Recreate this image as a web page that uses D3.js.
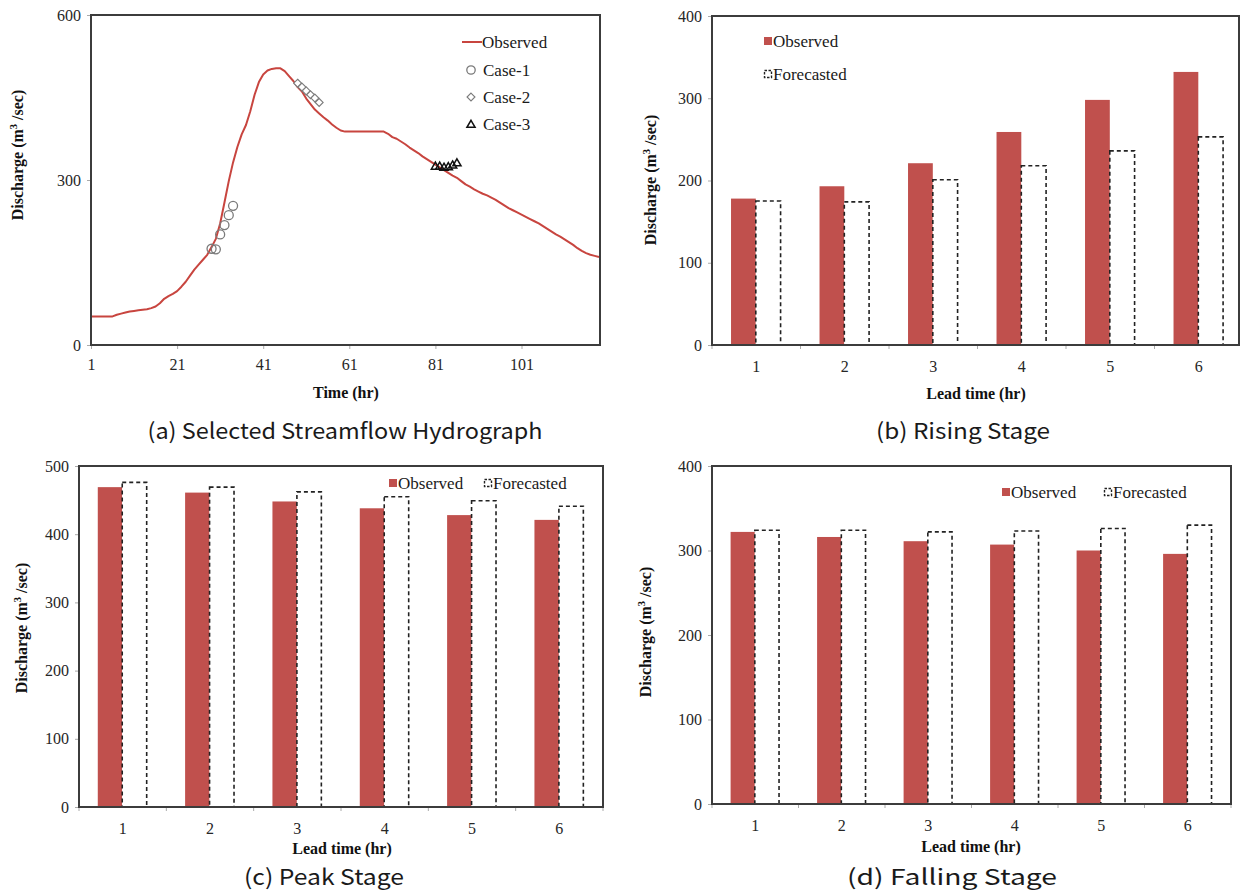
<!DOCTYPE html>
<html>
<head>
<meta charset="utf-8">
<script src="https://cdn.jsdelivr.net/npm/d3@7"></script>
<style>
  body { margin: 0; background: #fff; }
  svg { display: block; }
</style>
</head>
<body>
<svg id="fig" width="1241" height="895"></svg>
<script>
// ---- Hydrograph (hourly observed discharge, m3/sec) ----
const hydroFlow = [
  52, 52, 52, 52, 52, 52, 55, 57, 59, 61,
  62, 63, 64, 65, 67, 70, 76, 84, 89, 93,
  98, 106, 115, 126, 137, 146, 155, 164, 178, 193,
  221, 259, 298, 332, 360, 383, 400, 425, 455, 478,
  492, 499, 502, 503, 503, 498, 489, 480, 469, 461,
  448, 438, 428, 421, 414, 408, 401, 395, 390, 388,
  388, 388, 388, 388, 388, 388, 388, 388, 388, 384,
  378, 375, 370, 365, 359, 354, 349, 343, 338, 333,
  328, 323, 318, 313, 308, 304, 298, 292, 288, 283,
  279, 275, 272, 268, 264, 259, 254, 249, 245, 241,
  237, 233, 229, 225, 221, 216, 211, 206, 201, 197,
  192, 187, 182, 176, 171, 167, 164, 162, 160
];
const hydroTime = hydroFlow.map((_, i) => i + 1);
const timeTicks = [1, 21, 41, 61, 81, 101];

// ---- Lead-time forecasts for the three stages ----
const leadTimes = ["1", "2", "3", "4", "5", "6"];
const risingObserved = [178, 193, 221, 259, 298, 332];
const risingForecast = [175, 174, 201, 218, 236, 253];
const peakObserved = [469, 461, 448, 438, 428, 421];
const peakForecast = [476, 469, 462, 455, 449, 441];
const fallingObserved = [322, 316, 311, 307, 300, 296];
const fallingForecast = [324, 324, 322, 323, 326, 330];

// forecast issue times on the hydrograph
const case1Time = [29, 30, 31, 32, 33, 34];
const case2Time = [49, 50, 51, 52, 53, 54];
const case3Time = [81, 82, 83, 84, 85, 86];

const RED = "#C0504D";
const SERIF = "'Liberation Serif', 'Times New Roman', serif";
const CAPTION_FONT = "'Noto Sans CJK KR', 'Noto Sans', sans-serif";

const svg = d3.select("#fig");

function frame(g, p) {
  g.append("rect")
    .attr("x", p.left).attr("y", p.top)
    .attr("width", p.right - p.left).attr("height", p.bottom - p.top)
    .attr("fill", "none").attr("stroke", "#3c3c3c").attr("stroke-width", 2);
}

function yTitle(g, x, y) {
  const t = g.append("text")
    .attr("transform", `translate(${x},${y}) rotate(-90)`)
    .attr("text-anchor", "middle")
    .attr("font-family", SERIF).attr("font-weight", "bold")
    .attr("font-size", 16).attr("fill", "#111");
  t.append("tspan").text("Discharge (m");
  t.append("tspan").attr("font-size", 10.5).attr("dy", -6).text("3");
  t.append("tspan").attr("dy", 6).text(" /sec)");
}

function xTitle(g, x, y, label) {
  g.append("text").attr("x", x).attr("y", y)
    .attr("text-anchor", "middle")
    .attr("font-family", SERIF).attr("font-weight", "bold")
    .attr("font-size", 16).attr("fill", "#111")
    .text(label);
}

function caption(x, y, label, width) {
  svg.append("text").attr("x", x).attr("y", y)
    .attr("text-anchor", "middle")
    .attr("font-family", CAPTION_FONT)
    .attr("font-size", 22).attr("fill", "#1a1a1a")
    .attr("textLength", width).attr("lengthAdjust", "spacingAndGlyphs")
    .text(label);
}

function styleAxis(sel, fontSize) {
  sel.select(".domain").remove();
  sel.selectAll(".tick line").attr("stroke", "#aaa");
  sel.selectAll(".tick text").attr("font-size", fontSize)
    .attr("font-family", SERIF).attr("fill", "#262626");
}

// ================= (a) hydrograph =================
(function () {
  const p = { left: 91, top: 15, right: 600, bottom: 345 };
  const g = svg.append("g");
  const x = d3.scaleLinear().domain([1, 119]).range([p.left, p.right - 1]);
  const y = d3.scaleLinear().domain([0, 600]).range([p.bottom, p.top]);

  g.append("g").attr("transform", `translate(0,${p.bottom})`)
    .call(d3.axisBottom(x).tickValues(timeTicks).tickSize(4).tickPadding(10).tickFormat(d3.format("d")))
    .call(s => styleAxis(s, 16));
  g.append("g").attr("transform", `translate(${p.left},0)`)
    .call(d3.axisLeft(y).tickValues([0, 300, 600]).tickSize(4).tickPadding(6))
    .call(s => styleAxis(s, 16));

  const line = d3.line().x((d, i) => x(hydroTime[i])).y(d => y(d));
  g.append("path").datum(hydroFlow)
    .attr("d", line).attr("fill", "none")
    .attr("stroke", "#C8453F").attr("stroke-width", 2).attr("stroke-linejoin", "round");

  frame(g, p);

  // Case-1 circles
  g.selectAll(".c1").data(risingForecast).join("circle")
    .attr("cx", (d, i) => x(case1Time[i])).attr("cy", d => y(d)).attr("r", 4.5)
    .attr("fill", "none").attr("stroke", "#7a7a7a").attr("stroke-width", 1.3);
  // Case-2 diamonds
  const diamond = d3.symbol().type(d3.symbolDiamond2).size(40);
  g.selectAll(".c2").data(peakForecast).join("path")
    .attr("transform", (d, i) => `translate(${x(case2Time[i])},${y(d)})`)
    .attr("d", diamond).attr("fill", "#fff").attr("stroke", "#7a7a7a").attr("stroke-width", 1.1);
  // Case-3 triangles
  const tri = d3.symbol().type(d3.symbolTriangle2).size(48);
  g.selectAll(".c3").data(fallingForecast).join("path")
    .attr("transform", (d, i) => `translate(${x(case3Time[i])},${y(d)})`)
    .attr("d", tri).attr("fill", "none").attr("stroke", "#111").attr("stroke-width", 1.5);

  // legend
  const lg = g.append("g").attr("font-family", SERIF).attr("font-size", 17).attr("fill", "#1a1a1a");
  lg.append("line").attr("x1", 462).attr("x2", 482).attr("y1", 42).attr("y2", 42)
    .attr("stroke", "#C8453F").attr("stroke-width", 2);
  lg.append("text").attr("x", 482).attr("y", 48).text("Observed");
  lg.append("circle").attr("cx", 471).attr("cy", 70).attr("r", 4.2)
    .attr("fill", "none").attr("stroke", "#7a7a7a").attr("stroke-width", 1.3);
  lg.append("text").attr("x", 483).attr("y", 76).text("Case-1");
  lg.append("path").attr("transform", "translate(471,97)").attr("d", diamond)
    .attr("fill", "#fff").attr("stroke", "#7a7a7a").attr("stroke-width", 1.1);
  lg.append("text").attr("x", 483).attr("y", 103).text("Case-2");
  lg.append("path").attr("transform", "translate(471,125)").attr("d", tri)
    .attr("fill", "none").attr("stroke", "#111").attr("stroke-width", 1.5);
  lg.append("text").attr("x", 483).attr("y", 130).text("Case-3");

  yTitle(g, 23, 155);
  xTitle(g, 346, 398, "Time (hr)");
})();

// ================= bar panels =================
function barPanel(opt) {
  const p = opt.box;
  const g = svg.append("g");
  const x = d3.scaleBand().domain(leadTimes).range([p.left, p.bandRight]);
  const y = d3.scaleLinear().domain([0, opt.yMax]).range([p.bottom, p.top]);
  const bw = x.bandwidth();

  // category boundary ticks
  const edges = leadTimes.map(c => x(c)).concat([p.bandRight]);
  g.selectAll(".edge").data(edges).join("line")
    .attr("x1", d => d).attr("x2", d => d)
    .attr("y1", p.bottom).attr("y2", p.bottom + 4)
    .attr("stroke", "#aaa");

  g.append("g").attr("transform", `translate(0,${p.bottom})`)
    .call(d3.axisBottom(x).tickSize(0).tickPadding(opt.tickPad))
    .call(s => styleAxis(s, 16));
  g.append("g").attr("transform", `translate(${p.left},0)`)
    .call(d3.axisLeft(y).ticks(opt.yMax / 100).tickSize(4).tickPadding(6))
    .call(s => styleAxis(s, 16));

  g.selectAll(".obs").data(opt.observed).join("rect")
    .attr("x", (d, i) => x(leadTimes[i]) + bw * 0.215)
    .attr("width", bw * 0.28)
    .attr("y", d => y(d)).attr("height", d => p.bottom - y(d))
    .attr("fill", RED);
  g.selectAll(".fc").data(opt.forecast).join("rect")
    .attr("x", (d, i) => x(leadTimes[i]) + bw * 0.495)
    .attr("width", bw * 0.28)
    .attr("y", d => y(d)).attr("height", d => p.bottom - y(d))
    .attr("fill", "#fff").attr("stroke", "#222")
    .attr("stroke-width", 1.6).attr("stroke-dasharray", "4,3");

  frame(g, p);

  // legend
  const L = opt.legend;
  const lg = g.append("g").attr("font-family", SERIF).attr("font-size", 17).attr("fill", "#1a1a1a");
  lg.append("rect").attr("x", L.ox - 4).attr("y", L.oy - 4).attr("width", 8).attr("height", 8).attr("fill", RED);
  lg.append("text").attr("x", L.ox + 5).attr("y", L.oy + 6).text("Observed");
  lg.append("rect").attr("x", L.fx - 3.5).attr("y", L.fy - 3.5).attr("width", 7).attr("height", 7)
    .attr("fill", "#fff").attr("stroke", "#222").attr("stroke-width", 1.4).attr("stroke-dasharray", "2.5,1.5");
  lg.append("text").attr("x", L.fx + 5).attr("y", L.fy + 6).text("Forecasted");

  yTitle(g, opt.yTitle[0], opt.yTitle[1]);
  xTitle(g, opt.xTitle[0], opt.xTitle[1], "Lead time (hr)");
}

// (b) rising stage
barPanel({
  box: { left: 712, top: 16, right: 1239, bandRight: 1243, bottom: 345 },
  yMax: 400, observed: risingObserved, forecast: risingForecast, tickPad: 16,
  legend: { ox: 768, oy: 41, fx: 768, fy: 74 },
  yTitle: [656, 180], xTitle: [976, 399]
});

// (c) peak stage
barPanel({
  box: { left: 79, top: 466, right: 603, bandRight: 603, bottom: 807 },
  yMax: 500, observed: peakObserved, forecast: peakForecast, tickPad: 16,
  legend: { ox: 393, oy: 483, fx: 488, fy: 483 },
  yTitle: [27, 628], xTitle: [342, 854]
});

// (d) falling stage
barPanel({
  box: { left: 712, top: 466, right: 1231, bandRight: 1231, bottom: 804 },
  yMax: 400, observed: fallingObserved, forecast: fallingForecast, tickPad: 16,
  legend: { ox: 1006, oy: 492, fx: 1108, fy: 492 },
  yTitle: [651, 632], xTitle: [971, 852]
});

// figure captions
caption(345, 439, "(a)  Selected  Streamflow  Hydrograph", 395);
caption(963, 439, "(b)  Rising  Stage", 174);
caption(324, 885, "(c)  Peak  Stage", 160);
caption(952, 885, "(d)  Falling  Stage", 210);
</script>
</body>
</html>
